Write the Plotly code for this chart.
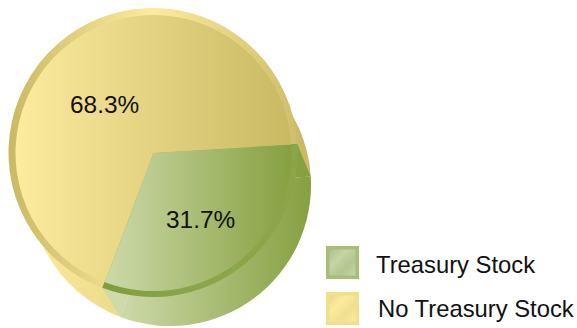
import json
import math
import plotly.graph_objects as go

W, H = 577, 328

categories = ["Treasury Stock", "No Treasury Stock"]
shares = [31.7, 68.3]
start_angle = 86.5

# disc geometry in pixels: centre x, centre y, radius
back_disc = (170, 185, 141)
rim_disc = (153, 152.5, 144.5)
face_disc = (153.5, 153, 138)

face_grad = {"Treasury Stock": ["#cdd9aa", "#86a040"],
             "No Treasury Stock": ["#fdeb9e", "#c9b963"]}
rim_grad = {"Treasury Stock": ["#7e9e3c", "#8aa64a", "#8ba648"],
            "No Treasury Stock": ["#c9b963", "#fdeb9e", "#cfbf6b"]}
wall_colors = ["#87a142", "#cedaac"]


def dom(d):
    cx, cy, r = d
    return dict(x=[(cx - r) / W, (cx + r) / W], y=[1 - (cy + r) / H, 1 - (cy - r) / H])


def pie(d, grad):
    return go.Pie(
        labels=categories, values=shares, sort=False, direction="clockwise",
        rotation=start_angle, domain=dom(d), textinfo="none", hoverinfo="label+percent",
        marker=dict(colors=[grad[c][0] for c in categories], line=dict(width=0)),
        showlegend=False,
    )


fig = go.Figure([pie(back_disc, face_grad), pie(rim_disc, rim_grad), pie(face_disc, face_grad)])


def edge_point(d, angle):
    cx, cy, r = d
    a = math.radians(angle)
    return cx + r * math.sin(a), cy - r * math.cos(a)


def paper(p):
    return f"{p[0] / W:.5f} {1 - p[1] / H:.5f}"


# side walls of the green wedge, joining front and back discs
wedge_end = start_angle + 360 * shares[0] / sum(shares)
for angle, col in zip([start_angle, wedge_end], wall_colors):
    pts = [rim_disc[:2], edge_point(rim_disc, angle), edge_point(back_disc, angle), back_disc[:2]]
    path = "M " + " L ".join(paper(p) for p in pts) + " Z"
    fig.add_shape(type="path", path=path, xref="paper", yref="paper", fillcolor=col, line_width=0)

font = dict(family="Liberation Sans, Arial, sans-serif", size=24.4, color="#111111")
for v, (x, y) in zip(shares, [(200, 219), (104.5, 105)]):
    fig.add_annotation(text=f"{v}%", x=x / W, y=1 - y / H, xref="paper", yref="paper",
                       showarrow=False, font=font, xanchor="center", yanchor="middle")

swatch_boxes = [(326, 246), (326, 292)]
swatch_edge = ["#a9bd77", "#efe08c"]
swatch_fill = [["#aec088", "#c6d4a6", "#b4c590", "#c6d4a6"],
               ["#e8d988", "#fbeb9f", "#efdf8e", "#fbeb9f"]]
text_x = [374, 376]
text_y = [264, 308]
for cat, (sx, sy), edge, fill, tx, ty in zip(categories, swatch_boxes, swatch_edge, swatch_fill, text_x, text_y):
    fig.add_shape(type="rect", xref="paper", yref="paper", x0=sx / W, x1=(sx + 33) / W,
                  y0=1 - sy / H, y1=1 - (sy + 33) / H, fillcolor=edge, line_width=0)
    fig.add_shape(type="rect", xref="paper", yref="paper", x0=(sx + 3.5) / W, x1=(sx + 29.5) / W,
                  y0=1 - (sy + 3.5) / H, y1=1 - (sy + 29.5) / H, fillcolor=fill[0], line_width=0)
    fig.add_annotation(text=cat, x=tx / W, y=1 - ty / H, xref="paper", yref="paper",
                       showarrow=False, xanchor="left", yanchor="middle",
                       font=dict(family="Liberation Sans, Arial, sans-serif", size=23.8, color="#111111"))

fig.update_layout(width=W, height=H, margin=dict(l=0, r=0, t=0, b=0), autosize=False,
                  paper_bgcolor="white", plot_bgcolor="white")

grads = [[face_grad[c] for c in categories], [rim_grad[c] for c in categories], [face_grad[c] for c in categories]]
post = """
document.body.style.margin = '0';
var gd = document.querySelector('.plotly-graph-div');
var grads = %s;
var swatches = %s;
var svg = gd.querySelector('svg.main-svg');
var NS = 'http://www.w3.org/2000/svg';
var defs = document.createElementNS(NS, 'defs');
svg.insertBefore(defs, svg.firstChild);
function makeGrad(id, colors, diag) {
  var lg = document.createElementNS(NS, 'linearGradient');
  lg.setAttribute('id', id);
  if (diag) { lg.setAttribute('x2', '1'); lg.setAttribute('y2', '1'); }
  colors.forEach(function (c, k) {
    var st = document.createElementNS(NS, 'stop');
    st.setAttribute('offset', k / (colors.length - 1));
    st.setAttribute('stop-color', c);
    lg.appendChild(st);
  });
  defs.appendChild(lg);
  return 'url(#' + id + ')';
}
var traces = gd.querySelectorAll('.pielayer .trace');
traces.forEach(function (tr, t) {
  tr.querySelectorAll('.slice path.surface').forEach(function (p, i) {
    p.style.fill = makeGrad('g' + t + '_' + i, grads[t][i], false);
  });
});
var shapes = gd.querySelectorAll('.layer-above .shapelayer path');
traces[1].parentNode.insertBefore(shapes[0], traces[1]);
traces[1].parentNode.insertBefore(shapes[1], traces[1]);
swatches.forEach(function (cols, i) {
  shapes[3 + 2 * i].style.fill = makeGrad('s' + i, cols, true);
});
""" % (json.dumps(grads), json.dumps(swatch_fill))

fig.write_html("out.html", post_script=post, config={"displayModeBar": False}, full_html=True)
